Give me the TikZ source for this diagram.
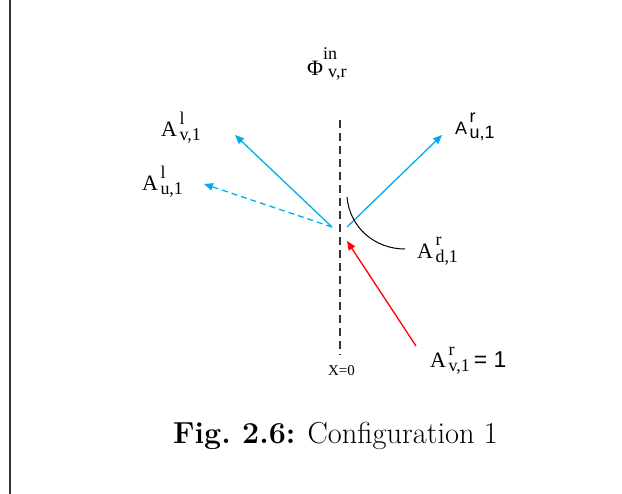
\documentclass[tikz,border=0pt]{standalone}
\usepackage{fontspec}
\usetikzlibrary{arrows.meta}
\newfontfamily\timesfont{Liberation Serif}
\newfontfamily\arialfont{Liberation Sans}
\definecolor{wavecyan}{HTML}{00AEEF}
\definecolor{waveincident}{HTML}{FF0000}
\definecolor{interfacegray}{HTML}{333333}
\newcommand{\ampsize}{\fontsize{18}{20}\selectfont}
\newcommand{\wavecoef}[3]{#1\kern2.5bp\rlap{\raisebox{12bp}{\ampsize #2}}\raisebox{-4bp}{\ampsize #3}}

\begin{document}
\begin{tikzpicture}[
    x=1bp, y=-1bp,
    amplabel/.style={
        anchor=base west,
        inner sep=0pt,
        font=\timesfont\fontsize{22}{26}\selectfont
    },
    sanslabel/.style={
        anchor=base west,
        inner sep=0pt,
        font=\arialfont\fontsize{18}{22}\selectfont
    },
    reflectlink/.style={
        -{Triangle[length=9bp,width=7.5bp]},
        line width=1.3bp,
        wavecyan
    },
    evanescentlink/.style={
        reflectlink,
        dash pattern=on 6bp off 4bp
    },
    incidentlink/.style={
        -{Triangle[length=9bp,width=7.5bp]},
        line width=1.3bp,
        waveincident
    },
    interface/.style={
        line width=1.3bp,
        interfacegray,
        dash pattern=on 8bp off 5bp
    }
]
    \useasboundingbox (0,0) rectangle (622,494);
    \draw[line width=1.3bp, interfacegray] (10,0) -- (10,494);

    \coordinate (top) at (340,120);
    \coordinate (bottom) at (340,355);
    \draw[interface] (top) -- (bottom);

    \coordinate (leftorigin) at (332,227);
    \coordinate (rightorigin) at (347,227);
    \coordinate (vltip) at (235,135);
    \coordinate (ultip) at (204,184);
    \coordinate (urtip) at (442,135);
    \coordinate (incidentstart) at (416,346);
    \coordinate (incidenttip) at (347,241);
    \coordinate (arcstart) at (347,197);
    \coordinate (arcend) at (405,249);

    \draw[reflectlink] (leftorigin) -- (vltip);
    \draw[evanescentlink] (leftorigin) -- (ultip);
    \draw[reflectlink] (rightorigin) -- (urtip);
    \draw[incidentlink] (incidentstart) -- (incidenttip);
    \draw[line width=1bp] (arcstart) to[out=-85, in=180] (arcend);

    \node[amplabel] (phi) at (307,76) {Φ\rlap{\raisebox{16bp}{\ampsize in}}\kern5bp\raisebox{-2bp}{\ampsize v,r}};
    \node[amplabel] (avl) at (161,137) {\wavecoef{A}{l}{v,1}};
    \node[amplabel] (aul) at (142,191) {\wavecoef{A}{l}{u,1}};
    \node[sanslabel] (aur) at (455,135) {\wavecoef{A}{r}{u,1}};
    \node[amplabel] (adr) at (417,258) {\wavecoef{A}{r}{d,1}};
    \node[amplabel] (avr) at (430,367) {\wavecoef{A}{r}{v,1}\kern4bp{\arialfont\fontsize{23}{27}\selectfont = 1}};
    \node[amplabel, font=\timesfont\fontsize{15}{18}\selectfont] (xzero) at (328,375) {X=0};

    \node[anchor=base west, inner sep=0pt, font=\fontsize{30.5}{36}\selectfont] (caption) at (173,443) {\textbf{Fig.\ 2.6:} Configuration 1};
\end{tikzpicture}
\end{document}
